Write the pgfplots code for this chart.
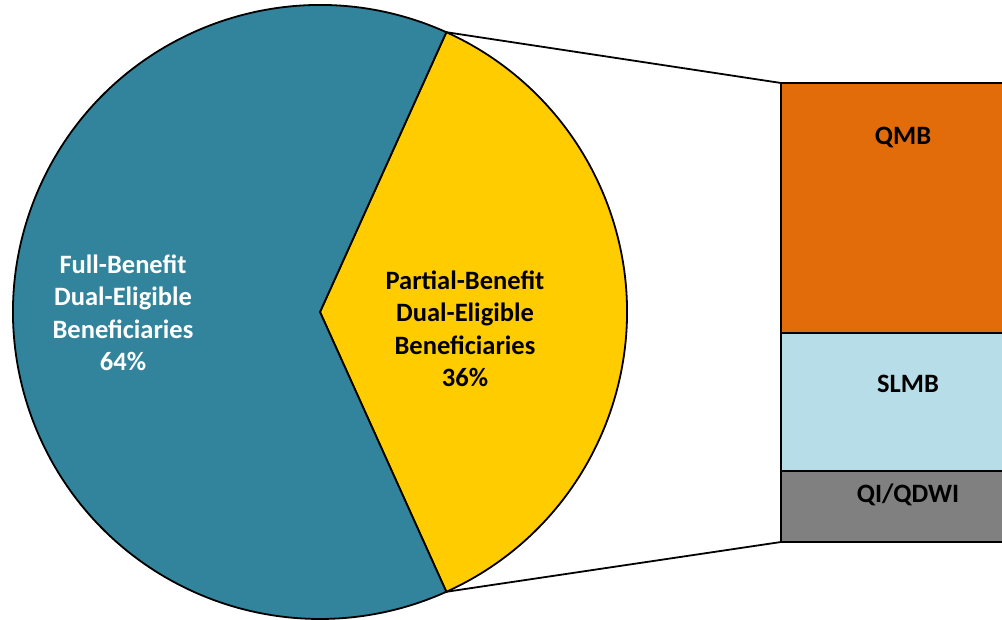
\documentclass[border=0pt]{standalone}
\usepackage{pgfplots}
\pgfplotsset{compat=1.18}
\usepackage{fontspec}
\setmainfont{Carlito}
\definecolor{fullc}{RGB}{49,132,155}
\definecolor{partc}{RGB}{255,204,0}
\definecolor{qmbc}{RGB}{227,108,10}
\definecolor{slmbc}{RGB}{183,222,232}
\definecolor{qic}{RGB}{128,128,128}
% pie shares (percent)
\def\fullshare{63.5}
\def\partshare{36.5}
\pgfmathsetmacro{\ha}{\partshare*1.8}
\pgfmathsetmacro{\hb}{360-\ha}
\begin{document}
\begin{tikzpicture}
\begin{axis}[
  width=1002pt, height=619pt, scale only axis,
  xmin=0, xmax=1002, ymin=0, ymax=619,
  hide axis, clip=true,
  stack plots=y,
]
\path (axis cs:0,0) rectangle (axis cs:1002,619);
% stacked bar of the partial-benefit group (base offset, QI/QDWI, SLMB, QMB)
\addplot[ybar, bar shift=0pt, bar width=248, draw=none, fill=none, forget plot] coordinates {(905,77)};
\addplot[ybar, bar shift=0pt, bar width=248, fill=qic, draw=black, line width=1.8pt] coordinates {(905,71)};
\addplot[ybar, bar shift=0pt, bar width=248, fill=slmbc, draw=black, line width=1.8pt] coordinates {(905,138)};
\addplot[ybar, bar shift=0pt, bar width=248, fill=qmbc, draw=black, line width=1.8pt] coordinates {(905,250)};
% pie
\fill[fullc, draw=black, line width=1.8pt] (axis cs:320,307) -- ++(\ha:307pt) arc[start angle=\ha, end angle=\hb, radius=307pt] -- cycle;
\fill[partc, draw=black, line width=1.8pt] (axis cs:320,307) -- ++(-\ha:307pt) arc[start angle=-\ha, end angle=\ha, radius=307pt] -- cycle;
% connector lines
\draw[black, line width=1.8pt] (axis cs:320,307) ++(\ha:307pt) -- (axis cs:781,536);
\draw[black, line width=1.8pt] (axis cs:320,307) ++(-\ha:307pt) -- (axis cs:781,77);
% label anchors
\coordinate (LF) at (axis cs:123,306);
\coordinate (LP) at (axis cs:465,290);
\coordinate (LQ) at (axis cs:903,482);
\coordinate (LS) at (axis cs:908,235);
\coordinate (LI) at (axis cs:908,124);
\end{axis}
\node[align=center, text=white, font=\fontsize{26.5}{32.5}\selectfont\bfseries] at (LF) {Full-Benefit\\Dual-Eligible\\Beneficiaries\\64\%};
\node[align=center, text=black, font=\fontsize{26.5}{32.5}\selectfont\bfseries] at (LP) {Partial-Benefit\\Dual-Eligible\\Beneficiaries\\36\%};
\node[font=\fontsize{26.5}{30}\selectfont\bfseries] at (LQ) {QMB};
\node[font=\fontsize{26.5}{30}\selectfont\bfseries] at (LS) {SLMB};
\node[font=\fontsize{26.5}{30}\selectfont\bfseries] at (LI) {QI/QDWI};
\end{tikzpicture}
\end{document}
